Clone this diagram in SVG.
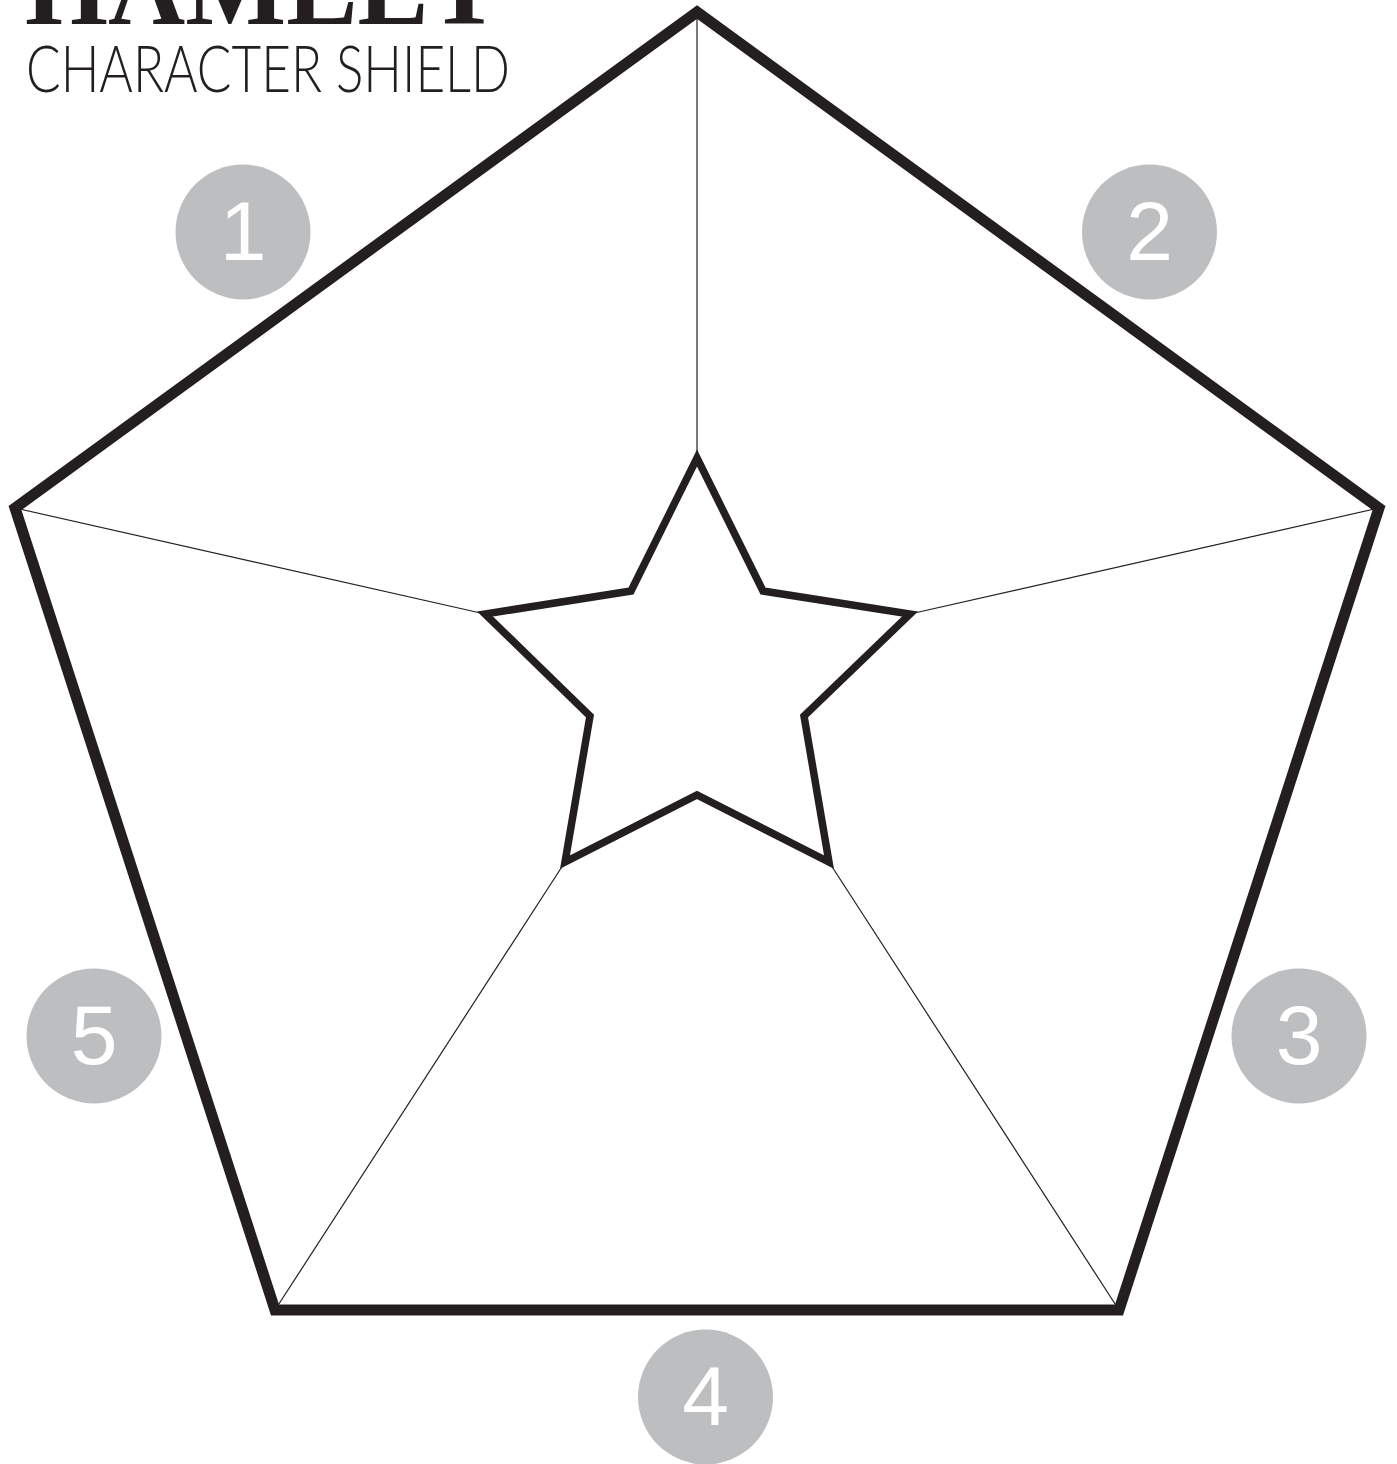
<svg xmlns="http://www.w3.org/2000/svg" width="1397" height="1464" viewBox="0 0 1397 1464">
<style>
.thin{fill:none;stroke:#231f20;stroke-width:1.2}
.pent{fill:none;stroke:#231f20;stroke-width:11;stroke-linejoin:miter}
.star{fill:#fff;stroke:#231f20;stroke-width:7.5;stroke-linejoin:miter}
.badge{fill:#bcbec0}
.num{font-family:"Liberation Sans",Arial,sans-serif;font-size:84px;fill:#fff;text-anchor:middle}
</style>
<rect width="1397" height="1464" fill="#fff"/>
<g id="title">
<text x="25" y="24" font-family="Liberation Serif,serif" font-weight="bold" font-size="110" fill="#231f20" textLength="475" lengthAdjust="spacingAndGlyphs">HAMLET</text>
<text x="26" y="92" font-family="Lato,'Open Sans',sans-serif" font-weight="300" font-size="65" fill="#231f20" textLength="484" lengthAdjust="spacingAndGlyphs">CHARACTER SHIELD</text>
</g>
<g id="connectors">
<line class="thin" x1="697" y1="12" x2="697" y2="458"/>
<line class="thin" x1="15" y1="508" x2="485" y2="614"/>
<line class="thin" x1="1379" y1="508" x2="910" y2="614"/>
<line class="thin" x1="275" y1="1310" x2="565" y2="862"/>
<line class="thin" x1="1119" y1="1310" x2="829" y2="862"/>
</g>
<g id="shield">
<polygon class="pent" points="697,12 1379,508 1119,1310 275,1310 15,508"/>
</g>
<g id="star">
<polygon class="star" points="697,458 763,591 910,614 804,716 829,862 697,795 565,862 590,716 485,614 631,591"/>
</g>
<g id="badge1"><circle class="badge" cx="243" cy="232" r="67.5"/><text class="num" x="243" y="260">1</text></g>
<g id="badge2"><circle class="badge" cx="1149.5" cy="232" r="67.5"/><text class="num" x="1149.5" y="260">2</text></g>
<g id="badge3"><circle class="badge" cx="1299" cy="1036" r="67.5"/><text class="num" x="1299" y="1064">3</text></g>
<g id="badge4"><circle class="badge" cx="705.5" cy="1397" r="67.5"/><text class="num" x="705.5" y="1425">4</text></g>
<g id="badge5"><circle class="badge" cx="94" cy="1036" r="67.5"/><text class="num" x="94" y="1064">5</text></g>
</svg>
